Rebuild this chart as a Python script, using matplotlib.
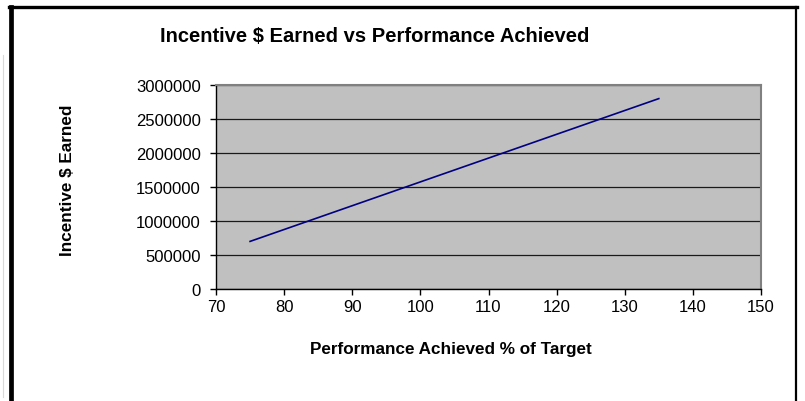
import matplotlib
matplotlib.use('Agg')
import matplotlib.pyplot as plt
from matplotlib.lines import Line2D

plt.rcParams['font.family'] = ['Liberation Sans', 'DejaVu Sans']

# performance achieved (% of target) vs incentive earned
performance = [75, 80, 85, 90, 95, 100, 105, 110, 115, 120, 125, 130, 135]
incentive = [700000, 875000, 1050000, 1225000, 1400000, 1575000, 1750000,
             1925000, 2100000, 2275000, 2450000, 2625000, 2800000]

x_ticks = [70, 80, 90, 100, 110, 120, 130, 140, 150]
y_ticks = [0, 500000, 1000000, 1500000, 2000000, 2500000, 3000000]

W, H = 805, 402
fig = plt.figure(figsize=(W / 100, H / 100), dpi=100)
fig.patch.set_facecolor('white')

# plot area in pixels: left 216, right 761, top 86, bottom 290
ax = fig.add_axes([216 / W, 1 - 290 / H, (761 - 216) / W, (290 - 86) / H])
ax.set_facecolor('#c0c0c0')
ax.plot(performance, incentive, color='#000080', linewidth=1.2, zorder=3)

ax.set_xlim(70, 150)
ax.set_ylim(0, 3000000)
ax.set_xticks(x_ticks)
ax.set_yticks(y_ticks)
ax.set_xticklabels([str(v) for v in x_ticks])
ax.set_yticklabels([str(v) for v in y_ticks])
ax.tick_params(axis='both', direction='out', length=4, width=1, labelsize=12,
               color='black')
ax.tick_params(axis='y', pad=7)
ax.tick_params(axis='x', pad=3.5)

ax.yaxis.grid(True, color='#1a1a1a', linewidth=0.9)
ax.set_axisbelow(True)

for side in ['top', 'right']:
    ax.spines[side].set_color('#808080')
    ax.spines[side].set_linewidth(1.5)
for side in ['left', 'bottom']:
    ax.spines[side].set_color('black')
    ax.spines[side].set_linewidth(1)

fig.text(375 / W, 1 - 36 / H, 'Incentive $ Earned vs Performance Achieved',
         ha='center', va='center', fontsize=14.5, fontweight='bold')
fig.text(451 / W, 1 - 350 / H, 'Performance Achieved % of Target',
         ha='center', va='center', fontsize=12.3, fontweight='bold')
fig.text(67 / W, 1 - 180 / H, 'Incentive $ Earned', rotation=90,
         ha='center', va='center', fontsize=12.3, fontweight='bold')

# chart frame (left, top, right borders)
fig.add_artist(Line2D([10.8 / W, 10.8 / W], [0, 1 - 7.5 / H], color='black', linewidth=3.4))
fig.add_artist(Line2D([9 / W, 797 / W], [1 - 7.5 / H, 1 - 7.5 / H], color='black', linewidth=2.4))
fig.add_artist(Line2D([796 / W, 796 / W], [0, 1 - 7.5 / H], color='black', linewidth=1.6))
# faint sheet gridline at far left
fig.add_artist(Line2D([2.5 / W, 2.5 / W], [1 - 398 / H, 1 - 56 / H], color='#d9d9d9', linewidth=0.8))

fig.savefig('out.png', dpi=100)
